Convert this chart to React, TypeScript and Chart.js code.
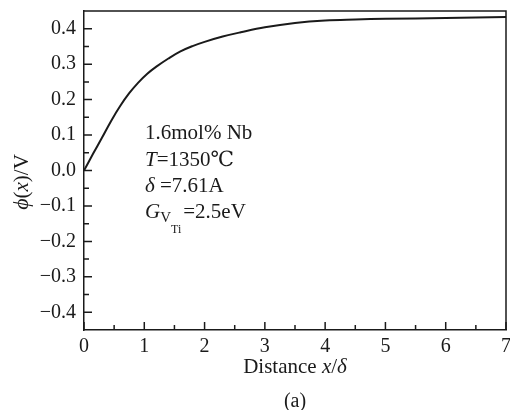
import { useEffect, useRef } from 'react';
import { Chart, registerables } from 'chart.js';

Chart.register(...registerables);

// Data
const distance = [0, 0.15, 0.3, 0.45, 0.6, 0.75, 0.9, 1.05, 1.2, 1.4, 1.6, 1.8, 2.0, 2.3, 2.6, 3.0, 3.5, 4.0, 4.5, 5.0, 6.0, 7.0];
const phi = [0, 0.047, 0.093, 0.14, 0.182, 0.218, 0.248, 0.273, 0.293, 0.316, 0.336, 0.351, 0.363, 0.378, 0.39, 0.404, 0.416, 0.423, 0.426, 0.428, 0.43, 0.433];

const xMajorTicks = [0, 1, 2, 3, 4, 5, 6, 7];
const xMinorTicks = [0.5, 1.5, 2.5, 3.5, 4.5, 5.5, 6.5];
const yMajorTicks = [-0.4, -0.3, -0.2, -0.1, 0, 0.1, 0.2, 0.3, 0.4];
const yMinorTicks = [-0.35, -0.25, -0.15, -0.05, 0.05, 0.15, 0.25, 0.35];

const FONT = '"Liberation Serif", "DejaVu Serif", serif';
const INK = '#1a1a1a';

type Seg = { t: string; italic?: boolean; size: number; dy?: number; gap?: number };

function drawSegs(ctx: CanvasRenderingContext2D, segs: Seg[], x: number, y: number, center = false) {
  let total = 0;
  for (const s of segs) {
    ctx.font = `${s.italic ? 'italic ' : ''}${s.size}px ${FONT}`;
    total += ctx.measureText(s.t).width + (s.gap || 0);
  }
  let cx = center ? x - total / 2 : x;
  for (const s of segs) {
    ctx.font = `${s.italic ? 'italic ' : ''}${s.size}px ${FONT}`;
    ctx.fillText(s.t, cx, y + (s.dy || 0));
    cx += ctx.measureText(s.t).width + (s.gap || 0);
  }
}

const decorPlugin = {
  id: 'decor',
  afterDraw(chart: any) {
    const { ctx, scales, chartArea } = chart;
    const xs = scales.x;
    const ys = scales.y;
    ctx.save();
    ctx.strokeStyle = INK;
    ctx.lineWidth = 1.5;
    ctx.beginPath();
    for (const v of xMajorTicks) {
      const px = xs.getPixelForValue(v);
      ctx.moveTo(px, chartArea.bottom);
      ctx.lineTo(px, chartArea.bottom - 8);
    }
    for (const v of xMinorTicks) {
      const px = xs.getPixelForValue(v);
      ctx.moveTo(px, chartArea.bottom);
      ctx.lineTo(px, chartArea.bottom - 5);
    }
    for (const v of yMajorTicks) {
      const py = ys.getPixelForValue(v);
      ctx.moveTo(chartArea.left, py);
      ctx.lineTo(chartArea.left + 8, py);
    }
    for (const v of yMinorTicks) {
      const py = ys.getPixelForValue(v);
      ctx.moveTo(chartArea.left, py);
      ctx.lineTo(chartArea.left + 5, py);
    }
    ctx.stroke();
    // frame top/right
    ctx.beginPath();
    ctx.moveTo(chartArea.left, chartArea.top);
    ctx.lineTo(chartArea.right, chartArea.top);
    ctx.lineTo(chartArea.right, chartArea.bottom);
    ctx.stroke();

    ctx.fillStyle = INK;
    ctx.textBaseline = 'middle';
    ctx.textAlign = 'left';

    // annotation
    const ax = 145;
    drawSegs(ctx, [{ t: '1.6mol% Nb', size: 21 }], ax, 133);
    drawSegs(ctx, [{ t: 'T', italic: true, size: 21 }, { t: '=1350\u2103', size: 21 }], ax, 160);
    drawSegs(ctx, [{ t: '\u03B4', italic: true, size: 21 }, { t: ' =7.61A', size: 21 }], ax, 186);
    drawSegs(ctx, [
      { t: 'G', italic: true, size: 21 },
      { t: 'V', size: 15, dy: 6 },
      { t: 'Ti', size: 12, dy: 18, gap: 2 },
      { t: '=2.5eV', size: 21 },
    ], ax, 212);

    // x title
    drawSegs(ctx, [
      { t: 'Distance ', size: 21 },
      { t: 'x', italic: true, size: 21 },
      { t: '/', size: 21 },
      { t: '\u03B4', italic: true, size: 21 },
    ], 295, 367, true);

    // caption
    drawSegs(ctx, [{ t: '(a)', size: 20 }], 295, 402, true);

    // y title rotated
    ctx.save();
    ctx.translate(22, 182);
    ctx.rotate(-Math.PI / 2);
    drawSegs(ctx, [
      { t: '\u03D5', italic: true, size: 22 },
      { t: '(', size: 21 },
      { t: 'x', italic: true, size: 21 },
      { t: ')/V', size: 21 },
    ], 0, 0, true);
    ctx.restore();

    ctx.restore();
  },
};

function fmtY(v: number): string {
  const s = Math.abs(v).toFixed(1);
  return v < -1e-9 ? '\u2212' + s : s;
}

export default function App() {
  const ref = useRef<HTMLCanvasElement | null>(null);
  useEffect(() => {
    if (!ref.current) return;
    const chart = new Chart(ref.current, {
      type: 'line',
      data: {
        datasets: [
          {
            data: distance.map((x, i) => ({ x, y: phi[i] })),
            borderColor: INK,
            borderWidth: 2,
            pointRadius: 0,
            fill: false,
            tension: 0.4,
          },
        ],
      },
      options: {
        animation: false,
        responsive: false,
        maintainAspectRatio: false,
        layout: { padding: { left: 0, right: 4, top: 11, bottom: 0 } },
        plugins: { legend: { display: false }, tooltip: { enabled: false } },
        scales: {
          x: {
            type: 'linear',
            min: 0,
            max: 7,
            grid: { display: false, drawTicks: false },
            border: { display: true, color: INK, width: 1.5 },
            afterBuildTicks: (s: any) => { s.ticks = xMajorTicks.map((v) => ({ value: v })); },
            afterFit: (s: any) => { s.height = 80; s.paddingLeft = 0; s.paddingRight = 0; },
            ticks: {
              color: INK,
              font: { family: FONT, size: 20 },
              padding: 5,
              maxRotation: 0,
              callback: (v: any) => String(v),
            },
          },
          y: {
            type: 'linear',
            min: -0.45,
            max: 0.45,
            grid: { display: false, drawTicks: false },
            border: { display: true, color: INK, width: 1.5 },
            afterBuildTicks: (s: any) => { s.ticks = yMajorTicks.map((v) => ({ value: v })); },
            afterFit: (s: any) => { s.width = 84; s.paddingTop = 0; s.paddingBottom = 0; },
            ticks: {
              color: INK,
              font: { family: FONT, size: 20 },
              padding: 8,
              callback: (v: any) => fmtY(Number(v)),
            },
          },
        },
      },
      plugins: [decorPlugin],
    } as any);
    return () => chart.destroy();
  }, []);
  return (
    <div style={{ position: 'fixed', left: 0, top: 0, width: 510, height: 410, background: '#fff' }}>
      <canvas ref={ref} width={510} height={410} style={{ width: 510, height: 410 }} />
    </div>
  );
}
